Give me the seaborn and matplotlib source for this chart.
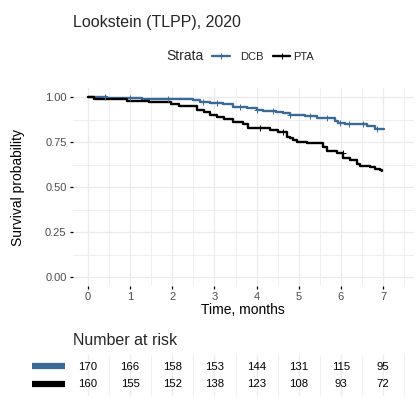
import numpy as np
import pandas as pd
import matplotlib
matplotlib.use("Agg")
import matplotlib.pyplot as plt
from matplotlib.lines import Line2D
import seaborn as sns

# ---------------- data ----------------
strata = ["DCB", "PTA"]
dcb_time = [0.0, 0.45, 1.28, 2.50, 2.66, 2.90, 3.05, 3.20, 3.44, 3.60, 3.77, 4.00, 4.15, 4.32,
            4.45, 4.63, 4.80, 5.15, 5.44, 5.87, 5.94, 6.10, 6.30, 6.62, 6.80, 7.02]
dcb_surv = [1.000, 0.994, 0.990, 0.983, 0.974, 0.969, 0.965, 0.960, 0.947, 0.942, 0.938, 0.930, 0.925, 0.921,
            0.917, 0.912, 0.898, 0.892, 0.885, 0.867, 0.856, 0.852, 0.848, 0.838, 0.822, 0.822]
pta_time = [0.0, 0.14, 0.62, 0.93, 1.45, 1.97, 2.16, 2.59, 2.75, 2.90, 3.06, 3.22, 3.44, 3.68, 3.80,
            4.32, 4.51, 4.73, 4.80, 4.87, 4.96, 5.20, 5.58, 5.67, 5.90, 6.06, 6.22, 6.38, 6.46, 6.70,
            6.80, 6.93, 6.98]
pta_surv = [1.000, 0.990, 0.987, 0.976, 0.972, 0.962, 0.952, 0.928, 0.917, 0.900, 0.890, 0.878, 0.863, 0.850, 0.828,
            0.817, 0.806, 0.780, 0.772, 0.762, 0.750, 0.744, 0.724, 0.700, 0.688, 0.663, 0.650, 0.628, 0.617, 0.613,
            0.600, 0.594, 0.588]
dcb_censor = [0.40, 1.00, 1.90, 2.73, 3.06, 3.60, 4.00, 4.40, 4.80, 5.27, 5.67, 5.98, 6.20, 6.52, 6.86]
pta_censor = [4.08, 4.63, 6.05]
risk_times = [0, 1, 2, 3, 4, 5, 6, 7]
dcb_risk = [170, 166, 158, 153, 144, 131, 115, 95]
pta_risk = [160, 155, 152, 138, 123, 108, 93, 72]

colors = {"DCB": "#3A6A95", "PTA": "#000000"}

df = pd.concat([
    pd.DataFrame({"time": dcb_time, "surv": dcb_surv, "strata": "DCB"}),
    pd.DataFrame({"time": pta_time, "surv": pta_surv, "strata": "PTA"}),
], ignore_index=True)


def step_at(times, survs, t):
    idx = np.searchsorted(times, t, side="right") - 1
    return np.asarray(survs)[idx]


cens = pd.concat([
    pd.DataFrame({"time": dcb_censor, "surv": step_at(dcb_time, dcb_surv, dcb_censor), "strata": "DCB"}),
    pd.DataFrame({"time": pta_censor, "surv": step_at(pta_time, pta_surv, pta_censor), "strata": "PTA"}),
], ignore_index=True)

# ---------------- style ----------------
sns.set_theme(style="white")
plt.rcParams["font.family"] = ["Liberation Sans", "DejaVu Sans"]

W, H = 416, 398
fig = plt.figure(figsize=(W / 100, H / 100), dpi=100)
fig.patch.set_facecolor("white")


def fy(py):
    return 1 - py / H


xlim = (-0.368, 7.728)
grid_c = "#EBEBEB"

ax = fig.add_axes([72.5 / W, fy(286), 341.2 / W, 198 / H])
ax.set_facecolor("white")
sns.lineplot(data=df, x="time", y="surv", hue="strata", palette=colors, drawstyle="steps-post",
             estimator=None, linewidth=1.7, legend=False, ax=ax)
for s in strata:
    sub = cens[cens["strata"] == s]
    ax.plot(sub["time"], sub["surv"], linestyle="none", marker="+", markersize=4,
            markeredgewidth=0.7, color=colors[s], zorder=3)

ax.set_xlim(*xlim)
ax.set_ylim(-0.05, 1.05)
ax.set_xticks(risk_times)
ax.set_xticks(np.arange(0.5, 8, 1), minor=True)
ax.set_yticks([0, 0.25, 0.5, 0.75, 1.0])
ax.set_yticklabels(["0.00", "0.25", "0.50", "0.75", "1.00"])
ax.set_yticks([0.125, 0.375, 0.625, 0.875], minor=True)
ax.grid(which="major", color=grid_c, linewidth=0.9)
ax.grid(which="minor", color=grid_c, linewidth=0.55)
ax.set_axisbelow(True)
for sp in ax.spines.values():
    sp.set_visible(False)
ax.tick_params(which="major", length=2.5, width=0.9, color="black", labelcolor="#4D4D4D",
               labelsize=8, pad=1.8, bottom=True, left=True)
ax.tick_params(which="minor", length=0)
ax.set_xlabel("Time, months", fontsize=10, color="black")
ax.set_ylabel("Survival probability", fontsize=10, color="black")
ax.xaxis.set_label_coords(0.5, -0.088)
ax.yaxis.set_label_coords(-0.14, 0.5)

# title
fig.text(73 / W, fy(27), "Lookstein (TLPP), 2020", fontsize=11.5, va="baseline", ha="left")

# legend
fig.text(166 / W, fy(60.5), "Strata", fontsize=10, va="baseline", ha="left")
key_pos = {"DCB": (212, 230, 240), "PTA": (273, 290, 293)}
for s in strata:
    x0, x1, xt = key_pos[s]
    fig.add_artist(Line2D([x0 / W, (x0 + x1) / 2 / W, x1 / W], [fy(56), fy(56), fy(56)],
                          color=colors[s], linewidth=1.7, marker="+", markevery=[1],
                          markersize=4, markeredgewidth=0.7))
    fig.text(xt / W, fy(60.3), s, fontsize=8, va="baseline", ha="left")

# risk table
fig.text(73 / W, fy(345), "Number at risk", fontsize=11.5, va="baseline", ha="left")
tax = fig.add_axes([72.5 / W, fy(396), 341.2 / W, 41 / H])
tax.set_facecolor("white")
tax.set_xlim(*xlim)
tax.set_ylim(0.3, 2.7)
for t in risk_times:
    tax.axvline(t, color=grid_c, linewidth=0.9, zorder=0)
    tax.axvline(t + 0.5, color=grid_c, linewidth=0.55, zorder=0)
for row, (s, vals) in zip([2, 1], [("DCB", dcb_risk), ("PTA", pta_risk)]):
    for t, v in zip(risk_times, vals):
        tax.text(t, row, str(v), ha="center", va="center", fontsize=8.2, color="black")
tax.set_xticks([])
tax.set_yticks([])
for sp in tax.spines.values():
    sp.set_visible(False)
for s, py in [("DCB", 366), ("PTA", 384)]:
    fig.add_artist(Line2D([32 / W, 65 / W], [fy(py), fy(py)], color=colors[s],
                          linewidth=4.5, solid_capstyle="butt"))

fig.savefig("out.png", dpi=100, facecolor="white")
